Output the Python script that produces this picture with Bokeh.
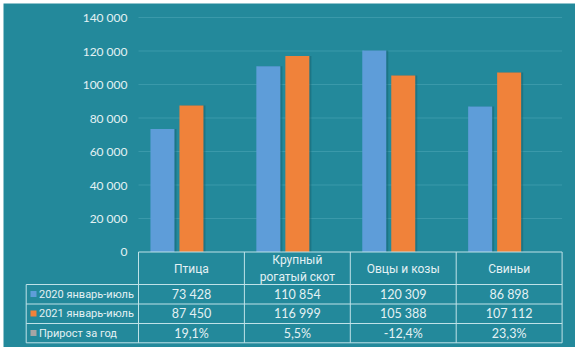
from bokeh.plotting import figure
from bokeh.models import Range1d
from bokeh.core.properties import value
from bokeh.embed import file_html
from bokeh.resources import INLINE

# ---- data ----
categories = ["Птица", "Крупный\nрогатый скот", "Овцы и козы", "Свиньи"]
series_names = ["2020 январь-июль", "2021 январь-июль", "Прирост за год"]
v2020 = [73428, 110854, 120309, 86898]
v2021 = [87450, 116999, 105388, 107112]
growth = [19.1, 5.5, -12.4, 23.3]
y_ticks = [0, 20000, 40000, 60000, 80000, 100000, 120000, 140000]

# ---- style ----
TEAL = "#23899B"
GRID = "#3A99AA"
TLINE = "#BFE2E8"
TXT = "#E4F1F4"
BLUE = "#5E9DD9"
ORANGE = "#F0823A"
GREY = "#A5A5A5"
FONT = value("Lato")
CYR = value("Roboto")

W, H = 572, 344
PX_CAT = 105.9           # px per category
ORIGIN_X = 138 - 3       # px of category 0 left edge within figure
ZERO_Y = 251.5 - 3       # px of value 0 from top within figure
VPP = 20000 / 33.5       # value per px

x0 = -ORIGIN_X / PX_CAT
x1 = x0 + W / PX_CAT
y1 = ZERO_Y * VPP
y0 = -(H - ZERO_Y) * VPP


def xp(img_x):
    return (img_x - 3 - ORIGIN_X) / PX_CAT


def yp(img_y):
    return (ZERO_Y - (img_y - 3)) * VPP


p = figure(width=W, height=H, x_range=Range1d(x0, x1), y_range=Range1d(y0, y1),
           output_backend="svg", toolbar_location=None, min_border=0,
           x_axis_location=None, y_axis_location=None,
           background_fill_color=TEAL, border_fill_color=TEAL,
           outline_line_color=None)
p.grid.visible = False
p.margin = (3, 4, 5, 3)

n = len(categories)
centers = [i + 0.5 for i in range(n)]
bw = 24 / PX_CAT
step = 29 / PX_CAT

# gridlines
gy = y_ticks[1:]
p.segment(x0=[0] * len(gy), x1=[n] * len(gy), y0=gy, y1=gy, line_color=GRID, line_width=1)

# y tick labels
p.text(x=[xp(127)] * len(y_ticks), y=y_ticks,
       text=[f"{t:,}".replace(",", " ") for t in y_ticks],
       text_align="right", text_baseline="middle", text_font=FONT,
       text_font_size="12px", text_color=TXT)

# bars (with subtle shadow)
shadow_dx = 2 / PX_CAT
for k, (vals, col) in enumerate([(v2020, BLUE), (v2021, ORANGE), ([g / 100 for g in growth], GREY)]):
    xs = [c + (k - 1) * step for c in centers]
    p.vbar(x=[x + shadow_dx for x in xs], top=vals, bottom=0, width=bw,
           fill_color="#155E6B", fill_alpha=0.45, line_color=None)
    p.vbar(x=xs, top=vals, bottom=0, width=bw, fill_color=col, line_color=None)

# ---- data table ----
row_lines = [284, 303.5, 323, 342.3]
left = xp(25.7)
p.segment(x0=[0], x1=[n], y0=[yp(251.5)], y1=[yp(251.5)], line_color=TLINE, line_width=1)
p.segment(x0=[left] * len(row_lines), x1=[n] * len(row_lines),
          y0=[yp(r) for r in row_lines], y1=[yp(r) for r in row_lines],
          line_color=TLINE, line_width=1)
vx = list(range(n + 1))
p.segment(x0=vx, x1=vx, y0=[yp(251.5)] * len(vx), y1=[yp(342.3)] * len(vx),
          line_color=TLINE, line_width=1)
p.segment(x0=[left], x1=[left], y0=[yp(284)], y1=[yp(342.3)], line_color=TLINE, line_width=1)

# header
p.text(x=centers, y=[yp(268)] * n, text=categories, text_align="center",
       text_baseline="middle", text_font=CYR, text_font_size="12px",
       text_color=TXT, text_line_height=1.2)

row_y = [293.5, 313, 332.5]
rows = [
    [f"{v:,}".replace(",", " ") for v in v2020],
    [f"{v:,}".replace(",", " ") for v in v2021],
    [f"{g:.1f}%".replace(".", ",") for g in growth],
]
for ry, vals in zip(row_y, rows):
    p.text(x=centers, y=[yp(ry)] * n, text=vals, text_align="center",
           text_baseline="middle", text_font=FONT, text_font_size="12.5px",
           text_color=TXT)

# row labels with legend keys
p.scatter(x=[xp(33)] * 3, y=[yp(r) for r in row_y], marker="square", size=6,
          fill_color=[BLUE, ORANGE, GREY], line_color=None)
p.text(x=[xp(38.5)] * 3, y=[yp(r) for r in row_y], text=series_names,
       text_align="left", text_baseline="middle", text_font=CYR,
       text_font_size="11px", text_color=TXT)

open("out.html", "w").write(file_html(p, INLINE))
